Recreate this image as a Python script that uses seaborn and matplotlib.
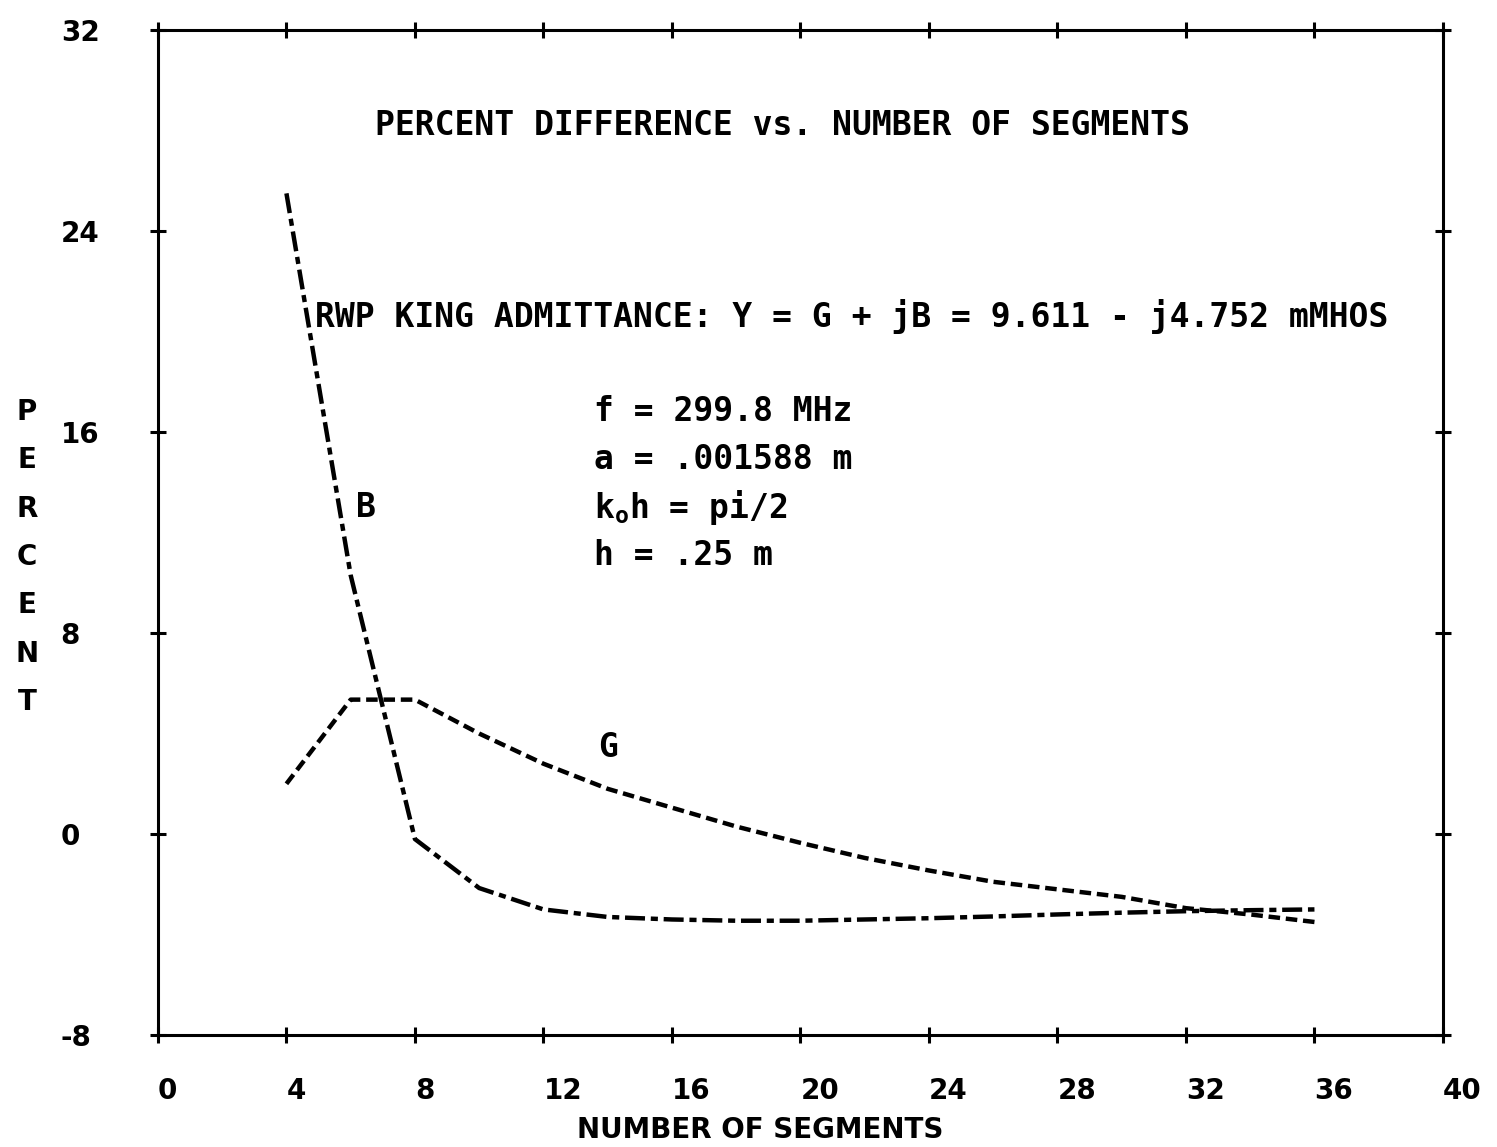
import matplotlib
matplotlib.use("Agg")
import matplotlib.pyplot as plt
import seaborn as sns
import pandas as pd

# Percent difference of admittance parts vs. number of segments
segments = [4, 6, 8, 10, 12, 14, 16, 18, 20, 22, 24, 26, 28, 30, 32, 34, 36]
b_percent = [25.5, 10.3, -0.2, -2.15, -3.0, -3.3, -3.4, -3.45, -3.45, -3.4,
             -3.35, -3.28, -3.2, -3.13, -3.07, -3.03, -3.0]
g_percent = [2.0, 5.35, 5.35, 4.0, 2.8, 1.8, 1.05, 0.3, -0.35, -0.95,
             -1.45, -1.9, -2.2, -2.5, -2.95, -3.2, -3.5]

x_ticks = [0, 4, 8, 12, 16, 20, 24, 28, 32, 36, 40]
y_ticks = [-8, 0, 8, 16, 24, 32]

df = pd.DataFrame({
    "segments": segments * 2,
    "percent": b_percent + g_percent,
    "part": ["B"] * len(segments) + ["G"] * len(segments),
})

sns.set_theme(style="white")
plt.rcParams["font.family"] = ["DejaVu Sans", "DejaVu Sans Mono"]
plt.rcParams["text.color"] = "black"
plt.rcParams["xtick.color"] = "black"
plt.rcParams["ytick.color"] = "black"
plt.rcParams["mathtext.fontset"] = "custom"
plt.rcParams["mathtext.rm"] = "DejaVu Sans Mono:bold"

fig = plt.figure(figsize=(14.97, 11.47), dpi=100)
ax = fig.add_axes([0.1055, 0.0976, 0.8584, 0.8762])

sns.lineplot(data=df, x="segments", y="percent", style="part",
             dashes={"B": (4.5, 1.3, 1.6, 1.3), "G": (2.6, 1.3)},
             color="black", linewidth=3.2, legend=False, ax=ax)

ax.set_xlim(0, 40)
ax.set_ylim(-8, 32)
ax.set_xticks(x_ticks)
ax.set_yticks(y_ticks)
ax.set_xticklabels([str(v) for v in x_ticks], fontsize=20, fontweight="bold",
                   ha="left", color="black")
ax.set_yticklabels([str(v) for v in y_ticks], fontsize=20, fontweight="bold",
                   ha="left", color="black")
ax.tick_params(axis="both", which="both", direction="inout", length=12,
               width=2.2, color="black", labelcolor="black", top=True,
               right=True, bottom=True, left=True)
ax.tick_params(axis="x", pad=24)
ax.tick_params(axis="y", pad=64)
for sp in ax.spines.values():
    sp.set_visible(True)
    sp.set_color("black")
    sp.set_linewidth(2.2)

ax.set_xlabel("")
ax.set_ylabel("")

mono = dict(family="DejaVu Sans Mono", fontweight="bold", fontsize=23.8,
            color="black")

ax.text(19.45, 28.2, "PERCENT DIFFERENCE vs. NUMBER OF SEGMENTS",
        ha="center", va="center", **mono)
ax.text(4.9, 20.6, "RWP KING ADMITTANCE: Y = G + jB = 9.611 - j4.752 mMHOS",
        ha="left", va="center", **mono)
ax.text(13.56, 16.8, "f = 299.8 MHz", ha="left", va="center", **mono)
ax.text(13.56, 14.9, "a = .001588 m", ha="left", va="center", **mono)
ax.text(13.56, 13.0, r"k$_\mathrm{o}$h = pi/2", ha="left", va="center", **mono)
ax.text(13.56, 11.1, "h = .25 m", ha="left", va="center", **mono)

ax.text(6.46, 13.0, "B", ha="center", va="center", **mono)
ax.text(14.0, 3.43, "G", ha="center", va="center", **mono)

# Axis titles
fig.text(760 / 1497, 1 - 1130 / 1147, "NUMBER OF SEGMENTS", ha="center",
         va="center", fontsize=20, fontweight="bold", color="black")
for i, ch in enumerate("PERCENT"):
    fig.text(27 / 1497, 1 - (412 + i * 48.3) / 1147, ch, ha="center",
             va="center", fontsize=20, fontweight="bold", color="black")

fig.savefig("out.png", dpi=100, facecolor="white")
